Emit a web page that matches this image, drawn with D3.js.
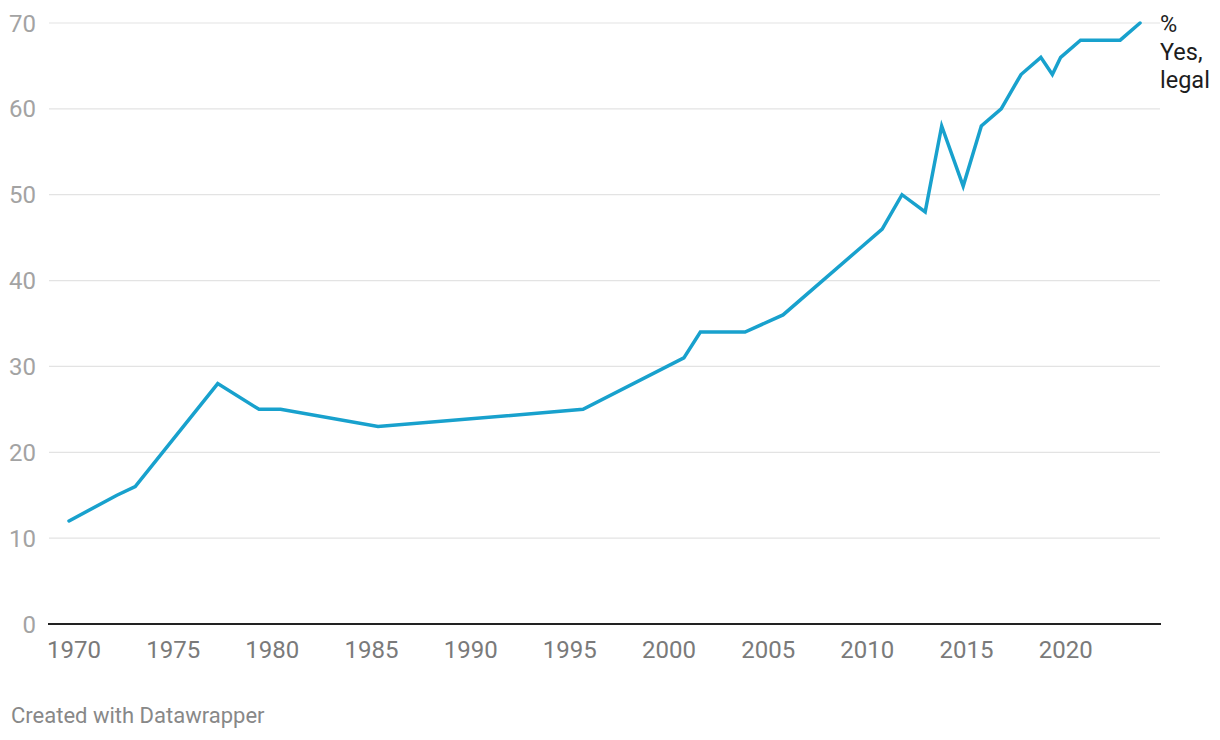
<!DOCTYPE html>
<html>
<head>
<meta charset="utf-8">
<script src="https://cdn.jsdelivr.net/npm/d3@7"></script>
<style>
  html, body { margin: 0; padding: 0; background: #fff; }
  svg { display: block; font-family: Roboto, "Noto Sans", sans-serif; }
</style>
</head>
<body>
<svg id="chart" width="1220" height="740"></svg>
<script>
// Data (survey dates, % saying marijuana should be legal)
const dates = ["1969-10","1972-03","1973-02","1977-04","1979-05","1980-06","1985-05",
  "1995-09","2000-10","2001-08","2003-11","2005-10","2009-10","2010-10","2011-10",
  "2012-12","2013-10","2014-11","2015-10","2016-10","2017-10","2018-10","2019-05",
  "2019-10","2020-10","2021-10","2022-10","2023-10"];
const values = [12,15,16,28,25,25,23,25,31,34,34,36,44,46,50,48,58,51,58,60,64,66,64,66,68,68,68,70];
const yTicks = [0,10,20,30,40,50,60,70];
const xTickYears = [1970,1975,1980,1985,1990,1995,2000,2005,2010,2015,2020];
const seriesLabel = ["%", "Yes,", "legal"];
const footer = "Created with Datawrapper";

const parse = d3.timeParse("%Y-%m");
const data = dates.map((d, i) => ({ date: parse(d), value: values[i] }));

const svg = d3.select("#chart");

const x = d3.scaleTime()
  .domain([parse("1969-10"), parse("2023-10")])
  .range([69, 1140]);
const y = d3.scaleLinear().domain([0, 70]).range([624, 23]);

// gridlines
svg.append("g").selectAll("line")
  .data(yTicks.filter(t => t !== 0))
  .join("line")
  .attr("x1", 49).attr("x2", 1160)
  .attr("y1", d => y(d)).attr("y2", d => y(d))
  .attr("stroke", "#e3e3e3").attr("stroke-width", 1.2);

// y labels
svg.append("g").selectAll("text")
  .data(yTicks)
  .join("text")
  .attr("x", 36).attr("y", d => y(d))
  .attr("dy", "0.36em")
  .attr("text-anchor", "end")
  .attr("font-size", 24)
  .attr("fill", "#a3a3a3")
  .text(d => d);

// zero axis line
svg.append("line")
  .attr("x1", 48).attr("x2", 1161)
  .attr("y1", y(0)).attr("y2", y(0))
  .attr("stroke", "#222").attr("stroke-width", 2);

// x labels
svg.append("g").selectAll("text")
  .data(xTickYears)
  .join("text")
  .attr("x", d => x(new Date(d, 0, 1)))
  .attr("y", 658)
  .attr("text-anchor", "middle")
  .attr("font-size", 24)
  .attr("fill", "#7a7a7a")
  .text(d => d);

// line
const line = d3.line().x(d => x(d.date)).y(d => y(d.value));
svg.append("path")
  .datum(data)
  .attr("d", line)
  .attr("fill", "none")
  .attr("stroke", "#18a1cd")
  .attr("stroke-width", 3.5)
  .attr("stroke-linejoin", "miter")
  .attr("stroke-linecap", "round");

// series label
svg.append("g").selectAll("text")
  .data(seriesLabel)
  .join("text")
  .attr("x", 1160)
  .attr("y", (d, i) => 32 + i * 28)
  .attr("font-size", 23.5)
  .attr("fill", "#1d1d1d")
  .text(d => d);

// footer
svg.append("text")
  .attr("x", 11).attr("y", 723)
  .attr("font-size", 22)
  .attr("fill", "#888")
  .text(footer);
</script>
</body>
</html>
